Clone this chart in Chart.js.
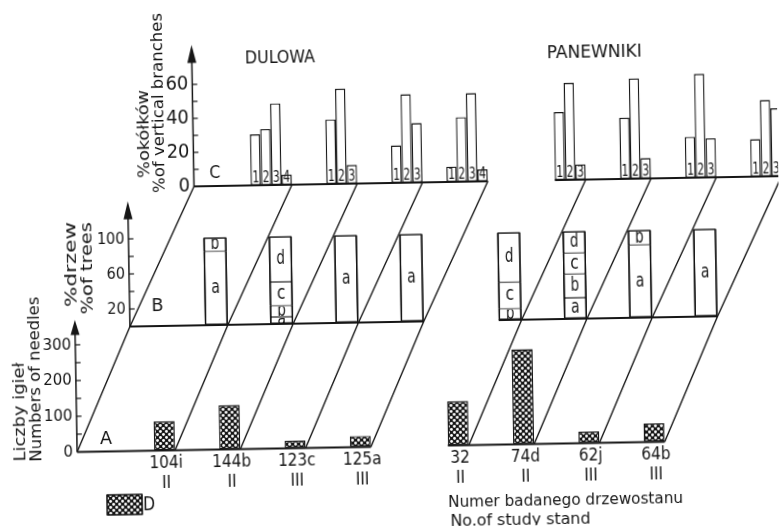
<!DOCTYPE html>
<html lang="pl">
<head>
<meta charset="utf-8">
<title>Dulowa / Panewniki</title>
<script src="https://cdn.jsdelivr.net/npm/chart.js@4.4.1/dist/chart.umd.min.js"></script>
<style>
  html, body { margin: 0; padding: 0; background: #fff; overflow: hidden; }
  #wrap { position: relative; width: 780px; height: 528px; transform: rotate(-1deg); transform-origin: 390px 264px; background: #fff; }
  #wrap canvas { position: absolute; left: 0; top: 0; }
</style>
</head>
<body>
<div id="wrap">
  <canvas id="cA" width="780" height="528"></canvas>
  <canvas id="cB" width="780" height="528"></canvas>
  <canvas id="cC" width="780" height="528"></canvas>
</div>
<script>
// ---------------- data ----------------
const sites = ['DULOWA', 'PANEWNIKI'];
const stands = ['104i', '144b', '123c', '125a', '32', '74d', '62j', '64b'];
const standSite = [0, 0, 0, 0, 1, 1, 1, 1];
const standClass = ['II', 'II', 'III', 'III', 'II', 'II', 'III', 'III'];
// A: number of needles
const needles = [82, 124, 21, 31, 124, 266, 32, 52];
// B: % of trees (stacked parts a-d)
const treesA = [84, 8, 100, 100, null, 24, 83, 100];
const treesB = [16, 13, null, null, 13, 27, 17, null];
const treesC = [null, 27, null, null, 30, 24, null, null];
const treesD = [null, 52, null, null, 57, 25, null, null];
// C: % of vertical branches (classes 1-4)
const branches1 = [30, 38, 22, 9, 40, 36, 24, 22];
const branches2 = [33, 56, 52, 38, 57, 59, 61, 45];
const branches3 = [48, 11, 35, 52, 9, 12, 23, 40];
const branches4 = [6, null, null, 7, null, null, null, null];
// tick labels
const ticksA = [0, 100, 200, 300], minorA = [50, 150, 250];
const ticksB = [20, 60, 100], minorB = [40, 80];
const ticksC = [0, 20, 40, 60], minorC = [10, 30, 50];
const treeParts = ['a', 'b', 'c', 'd'];
const branchClasses = ['1', '2', '3', '4'];
const legendLabel = 'D';
const panelLetters = ['A', 'B', 'C'];

// ---------------- layout ----------------
const W = 780, H = 528, UNIT = 65.3, Y_AXIS_W = 60, X_AXIS_H = 70;
const INK = '#161616';
const SITE_START = [1.5, 6];
const standPos = stands.map((s, i) => SITE_START[standSite[i]] + i - standSite.indexOf(standSite[i]));
const PANEL = {
  A: { ox: 73.9,  base: 446.5, ppu: 0.357, max: 370,  barW: 21,   arrow: 15 },
  B: { ox: 128.9, base: 322,   ppu: 0.876, max: 143,  barW: 23,   arrow: 18 },
  C: { ox: 195.4, base: 183,   ppu: 1.70,  max: 83.2, barW: 10.3, arrow: 18 }
};

// ---------------- fonts ----------------
const probe = document.createElement('canvas').getContext('2d');
function hasFont(f) {
  const s = 'mmmWWWiiilll0123456789';
  probe.font = '40px monospace'; const a = probe.measureText(s).width;
  probe.font = `40px "${f}", monospace`; return probe.measureText(s).width !== a;
}
const FAM = ['Liberation Sans Narrow', 'DejaVu Sans Condensed', 'DejaVu Sans', 'Liberation Sans'].find(hasFont) || 'sans-serif';
function widthAt1(t) { probe.font = `100px "${FAM}"`; return probe.measureText(t).width / 100; }
function fitSize(t, w, capH) { return Math.min(1.08 * w / widthAt1(t), capH / 0.72); }
Chart.defaults.font.family = FAM;
Chart.defaults.color = INK;

function drawText(ctx, s, x, y, size, w, o = {}) {
  ctx.save();
  ctx.font = `${size}px "${FAM}"`;
  const m = ctx.measureText(s).width;
  const sx = w ? w / m : 1;
  ctx.translate(x, y);
  if (o.rot) ctx.rotate(o.rot);
  ctx.scale(sx, 1);
  ctx.textAlign = o.align || 'center';
  ctx.textBaseline = 'middle';
  ctx.fillStyle = INK;
  ctx.fillText(s, 0, 0);
  ctx.restore();
}

function makePattern(ctx) {
  const c = document.createElement('canvas'); c.width = 6; c.height = 6;
  const g = c.getContext('2d');
  g.fillStyle = INK; g.fillRect(0, 0, 6, 6);
  g.fillStyle = '#fff';
  [[1.5, 1.5], [4.5, 4.5]].forEach(([x, y]) => { g.beginPath(); g.arc(x, y, 1.45, 0, Math.PI * 2); g.fill(); });
  return ctx.createPattern(c, 'repeat');
}

function panelOptions(p, ticks, tickSize, xAxis, stacked) {
  const xh = xAxis ? X_AXIS_H : 0;
  return {
    responsive: false, animation: false, devicePixelRatio: 1, events: [],
    layout: { padding: { left: p.ox - Y_AXIS_W, right: 0, top: p.base - p.max * p.ppu, bottom: H - p.base - xh } },
    plugins: { legend: { display: false }, tooltip: { enabled: false } },
    scales: {
      x: Object.assign({
        type: 'linear', min: 0, max: (W - p.ox) / UNIT, offset: false, display: false,
        grid: { display: false, drawTicks: false }, border: { display: false }
      }, xAxis || {}),
      y: {
        type: 'linear', min: 0, max: p.max, stacked: !!stacked, offset: false,
        afterFit: s => { s.width = Y_AXIS_W; },
        afterBuildTicks: s => { s.ticks = ticks.map(v => ({ value: v })); },
        grid: { display: false, drawTicks: false }, border: { display: false },
        ticks: { color: INK, padding: 4, autoSkip: false, font: { family: FAM, size: tickSize } }
      }
    }
  };
}

const barStyle = { borderColor: INK, borderWidth: 1.4, borderSkipped: false, grouped: false, clip: false, inflateAmount: 0 };
const charts = {};

// ---------------- panel A: needles ----------------
const pattern = makePattern(document.getElementById('cA').getContext('2d'));
const xAxisA = {
  display: true,
  afterFit: s => { s.height = X_AXIS_H; },
  afterBuildTicks: s => { s.ticks = standPos.map(p => ({ value: p - 9 / UNIT })); },
  ticks: {
    autoSkip: false, maxRotation: 0, minRotation: 0, padding: 3, color: INK,
    font: { family: FAM, size: fitSize('104i', 31, 15), lineHeight: '20px' },
    callback: (v, i) => [stands[i], standClass[i]]
  }
};
charts.A = new Chart(document.getElementById('cA'), {
  type: 'bar',
  data: {
    datasets: [Object.assign({
      label: legendLabel, backgroundColor: pattern, barThickness: PANEL.A.barW,
      data: needles.map((v, i) => ({ x: standPos[i] - PANEL.A.barW / 2 / UNIT, y: v }))
    }, barStyle)]
  },
  options: panelOptions(PANEL.A, ticksA, fitSize('300', 27.5, 12), xAxisA, false)
});

// ---------------- panel B: % of trees ----------------
const treeSeries = [treesA, treesB, treesC, treesD];
charts.B = new Chart(document.getElementById('cB'), {
  type: 'bar',
  data: {
    datasets: treeSeries.map((arr, k) => Object.assign({}, barStyle, {
      label: treeParts[k], backgroundColor: '#fff', barThickness: PANEL.B.barW,
      borderWidth: { left: 1.4, right: 1.4, top: 0.8, bottom: 0.8 },
      data: arr.map((v, i) => ({ x: standPos[i] - PANEL.B.barW / 2 / UNIT, y: v }))
    }))
  },
  options: panelOptions(PANEL.B, ticksB, fitSize('100', 25.5, 12), null, true)
});

// ---------------- panel C: % of vertical branches + overlay ----------------
const branchSeries = [branches1, branches2, branches3, branches4];
const nBars = stands.map((s, i) => branchSeries.filter(a => a[i] != null).length);

const TEXTS = [
  { s: sites[0], x: 283.6, y: 56.8, size: 17, w: 70 },
  { s: sites[1], x: 598, y: 56.9, size: 17, w: 95 },
  { s: 'C', x: 216.6, y: 170.4, size: 18, w: 11 },
  { s: 'B', x: 156.7, y: 302.2, size: 18, w: 12 },
  { s: 'A', x: 103, y: 434.5, size: 17, w: 12 },
  { s: '%okółków', x: 147.3, y: 129.7, size: 16, w: 88, rot: -Math.PI / 2 },
  { s: '%of vertical branches', x: 161.8, y: 99, size: 16, w: 180, rot: -Math.PI / 2 },
  { s: '%drzew', x: 71.7, y: 259, size: 16, w: 85, rot: -Math.PI / 2 },
  { s: '%of trees', x: 88.2, y: 263, size: 16, w: 92, rot: -Math.PI / 2 },
  { s: 'Liczby igieł', x: 17.4, y: 405.5, size: 16, w: 99, rot: -Math.PI / 2 },
  { s: 'Numbers of needles', x: 34, y: 373, size: 16, w: 165, rot: -Math.PI / 2 },
  { s: 'Numer badanego drzewostanu', x: 444, y: 503.6, size: 16, w: 235, align: 'left' },
  { s: 'No.of study stand', x: 446, y: 522.6, size: 16, w: 140, align: 'left' }
];
const LEGEND_BOX = { x: 103, y: 490, w: 35, h: 20 };

const overlay = {
  id: 'overlay',
  afterDraw(chart) {
    const ctx = chart.ctx;
    const pan = { A: charts.A, B: charts.B, C: chart };
    const X = (k, v) => pan[k].scales.x.getPixelForValue(v);
    const Y = (k, v) => pan[k].scales.y.getPixelForValue(v);
    ctx.save();
    ctx.strokeStyle = INK; ctx.fillStyle = INK; ctx.lineJoin = 'round';

    // oblique connectors through panel origins and stand corners
    ctx.lineWidth = 1.4;
    [0].concat(standPos).forEach(p => {
      ctx.beginPath();
      panelLetters.forEach((k, j) => { const x = X(k, p), y = Y(k, 0); if (j) ctx.lineTo(x, y); else ctx.moveTo(x, y); });
      ctx.stroke();
    });

    // base lines per site and panel
    ctx.lineWidth = 2;
    panelLetters.forEach(k => {
      const c = pan[k];
      sites.forEach((site, s) => {
        const idx = stands.map((_, i) => i).filter(i => standSite[i] === s);
        let left = X(k, 0);
        if (s > 0) {
          left = Infinity;
          c.data.datasets.forEach((ds, d) => {
            const el = c.getDatasetMeta(d).data[idx[0]];
            if (el && ds.data[idx[0]].y != null) left = Math.min(left, el.x - el.width / 2);
          });
        }
        const right = X(k, standPos[idx[idx.length - 1]]);
        const y = Y(k, 0);
        ctx.beginPath(); ctx.moveTo(left, y); ctx.lineTo(right, y); ctx.stroke();
      });
    });

    // value axes: line, arrow, inward ticks
    const majors = { A: ticksA, B: ticksB, C: ticksC }, minors = { A: minorA, B: minorB, C: minorC };
    panelLetters.forEach(k => {
      const p = PANEL[k], x0 = X(k, 0), yb = Y(k, 0), yt = Y(k, p.max);
      ctx.lineWidth = 1.5;
      ctx.beginPath(); ctx.moveTo(x0, yb); ctx.lineTo(x0, yt + 4); ctx.stroke();
      ctx.beginPath(); ctx.moveTo(x0, yt); ctx.lineTo(x0 - 4.5, yt + p.arrow); ctx.lineTo(x0 + 4.5, yt + p.arrow); ctx.closePath(); ctx.fill();
      ctx.lineWidth = 1.2;
      majors[k].concat(minors[k]).filter(v => v > 0).forEach(v => {
        const y = Y(k, v); ctx.beginPath(); ctx.moveTo(x0, y); ctx.lineTo(x0 + 5, y); ctx.stroke();
      });
    });

    // outer outline of each stacked tree bar (taken from the bar elements)
    ctx.lineWidth = 1.4;
    stands.forEach((s, i) => {
      let top = Infinity, base = -Infinity, l = 0, w = 0;
      charts.B.data.datasets.forEach((ds, d) => {
        if (ds.data[i].y == null) return;
        const el = charts.B.getDatasetMeta(d).data[i];
        top = Math.min(top, el.y); base = Math.max(base, el.base); l = el.x - el.width / 2; w = el.width;
      });
      if (top < base) ctx.strokeRect(l + 0.7, top + 0.7, w - 1.4, base - top - 1.4);
    });

    // letters inside the stacked tree bars
    charts.B.data.datasets.forEach((ds, d) => {
      charts.B.getDatasetMeta(d).data.forEach((el, i) => {
        if (ds.data[i].y == null) return;
        const l = el.x - el.width / 2, t = Math.min(el.y, el.base), h = Math.abs(el.base - el.y);
        ctx.save();
        ctx.beginPath(); ctx.rect(l + 1.2, t + 1, el.width - 2.4, Math.max(0, h - 2)); ctx.clip();
        drawText(ctx, ds.label, el.x, t + h / 2, 19, 8.5);
        ctx.restore();
      });
    });

    // class digits at the foot of the branch bars
    chart.data.datasets.forEach((ds, d) => {
      chart.getDatasetMeta(d).data.forEach((el, i) => {
        if (ds.data[i].y == null) return;
        drawText(ctx, ds.label, el.x, el.base - 6.5, 15, 6.8);
      });
    });

    // texts
    TEXTS.forEach(t => drawText(ctx, t.s, t.x, t.y, t.size, t.w, { rot: t.rot, align: t.align }));

    // legend
    const lb = LEGEND_BOX;
    ctx.fillStyle = charts.A.data.datasets[0].backgroundColor;
    ctx.fillRect(lb.x, lb.y, lb.w, lb.h);
    ctx.lineWidth = 1.6; ctx.strokeStyle = INK;
    ctx.strokeRect(lb.x, lb.y, lb.w, lb.h);
    drawText(ctx, legendLabel, lb.x + lb.w + 7, lb.y + lb.h / 2 + 1, 19, 12);

    ctx.restore();
  }
};

charts.C = new Chart(document.getElementById('cC'), {
  type: 'bar',
  data: {
    datasets: branchSeries.map((arr, k) => Object.assign({
      label: branchClasses[k], backgroundColor: '#fff', barThickness: PANEL.C.barW,
      data: arr.map((v, i) => ({ x: standPos[i] - (nBars[i] - k - 0.5) * PANEL.C.barW / UNIT, y: v }))
    }, barStyle))
  },
  options: panelOptions(PANEL.C, ticksC, fitSize('60', 22.5, 14.3), null, false),
  plugins: [overlay]
});
</script>
</body>
</html>
